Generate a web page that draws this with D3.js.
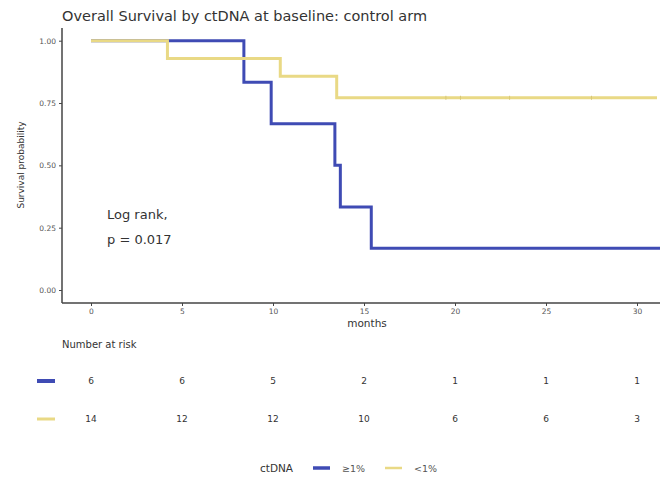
<!DOCTYPE html>
<html>
<head>
<meta charset="utf-8">
<script src="https://cdn.jsdelivr.net/npm/d3@7"></script>
<style>
  body { margin: 0; background: #fff; }
  text { font-family: "DejaVu Sans", Verdana, sans-serif; }
</style>
</head>
<body>
<div id="chart"></div>
<script>
// chart data
const months = [0, 5, 10, 15, 20, 25, 30];
const yTicks = [0, 0.25, 0.5, 0.75, 1];
const groups = ["\u22651%", "<1%"];
const colors = ["#3f4bb4", "#e9d985"];
const highTimes = [0, 8.4, 9.9, 13.4, 13.7, 15.4, 31.5];
const highSurv = [1, 0.833, 0.667, 0.5, 0.333, 0.167, 0.167];
const lowTimes = [0, 4.2, 10.4, 13.5, 31.1];
const lowSurv = [1, 0.929, 0.857, 0.771, 0.771];
const lowCensor = [19.5, 20.3, 23, 27.5];
const highRisk = [6, 6, 5, 2, 1, 1, 1];
const lowRisk = [14, 12, 12, 10, 6, 6, 3];

const width = 660, height = 478;
const svg = d3.select("#chart").append("svg")
    .attr("width", width)
    .attr("height", height);

const x = d3.scaleLinear().domain([0, 30]).range([91, 637]);
const y = d3.scaleLinear().domain([0, 1]).range([290, 40.7]);

// title
svg.append("text")
    .attr("x", 62).attr("y", 21)
    .attr("font-size", 14.5)
    .attr("fill", "#333")
    .text("Overall Survival by ctDNA at baseline: control arm");

// axes
const yAxis = svg.append("g")
    .attr("transform", "translate(62,0)")
    .call(d3.axisLeft(y).tickValues(yTicks).tickFormat(d3.format(".2f")).tickSize(3));
const xAxis = svg.append("g")
    .attr("transform", "translate(0,303)")
    .call(d3.axisBottom(x).tickValues(months).tickSize(3));
[xAxis, yAxis].forEach(a => {
    a.select(".domain").remove();
    a.selectAll("line").attr("stroke", "#444");
    a.selectAll("text").attr("fill", "#555").attr("font-size", 7.5)
        .attr("font-family", "DejaVu Sans, Verdana, sans-serif");
});
svg.append("line").attr("x1", 62).attr("x2", 62).attr("y1", 28).attr("y2", 303)
    .attr("stroke", "#444").attr("stroke-width", 1.5);
svg.append("line").attr("x1", 62).attr("x2", width).attr("y1", 303).attr("y2", 303)
    .attr("stroke", "#444").attr("stroke-width", 1.5);

svg.append("text")
    .attr("transform", "translate(24,165) rotate(-90)")
    .attr("text-anchor", "middle")
    .attr("font-size", 9).attr("fill", "#333")
    .text("Survival probability");
svg.append("text")
    .attr("x", 367).attr("y", 327)
    .attr("text-anchor", "middle")
    .attr("font-size", 10.5).attr("fill", "#333")
    .text("months");

// curves
const line = d3.line()
    .x(d => x(d[0]))
    .y(d => y(d[1]))
    .curve(d3.curveStepAfter);

svg.append("path")
    .datum(d3.zip(highTimes, highSurv))
    .attr("d", line)
    .attr("fill", "none")
    .attr("stroke", colors[0])
    .attr("stroke-width", 3);

svg.append("path")
    .datum(d3.zip(lowTimes, lowSurv))
    .attr("d", line)
    .attr("fill", "none")
    .attr("stroke", colors[1])
    .attr("stroke-width", 3);

svg.selectAll(".censor")
    .data(lowCensor)
    .enter().append("line")
    .attr("x1", d => x(d)).attr("x2", d => x(d))
    .attr("y1", y(0.771) - 2).attr("y2", y(0.771) + 2)
    .attr("stroke", "#d8c878").attr("stroke-width", 1);

// log-rank label
svg.append("text").attr("x", 107).attr("y", 219)
    .attr("font-size", 13).attr("fill", "#333").text("Log rank,");
svg.append("text").attr("x", 107).attr("y", 244)
    .attr("font-size", 13).attr("fill", "#333").text("p = 0.017");

// risk table
svg.append("text").attr("x", 62).attr("y", 348)
    .attr("font-size", 10).attr("fill", "#333").text("Number at risk");

const rows = [highRisk, lowRisk];
const rowY = [381, 419];
rows.forEach((r, i) => {
    svg.append("line")
        .attr("x1", 37).attr("x2", 55)
        .attr("y1", rowY[i]).attr("y2", rowY[i])
        .attr("stroke", colors[i]).attr("stroke-width", i === 0 ? 4 : 3);
    svg.selectAll(".risk" + i)
        .data(r)
        .enter().append("text")
        .attr("x", (d, j) => x(months[j]))
        .attr("y", rowY[i] + 3)
        .attr("text-anchor", "middle")
        .attr("font-size", 9)
        .attr("fill", "#333")
        .text(d => d);
});

// legend
const lg = svg.append("g").attr("transform", "translate(260,468)");
lg.append("text").attr("x", 0).attr("y", 3.5)
    .attr("font-size", 10.5).attr("fill", "#333").text("ctDNA");
groups.forEach((g, i) => {
    const off = 53 + i * 72;
    lg.append("line").attr("x1", off).attr("x2", off + 17)
        .attr("y1", 0).attr("y2", 0)
        .attr("stroke", colors[i]).attr("stroke-width", i === 0 ? 3.5 : 2.5);
    lg.append("text").attr("x", off + 29).attr("y", 3.5)
        .attr("font-size", 9.5).attr("fill", "#555").text(g);
});
</script>
</body>
</html>
